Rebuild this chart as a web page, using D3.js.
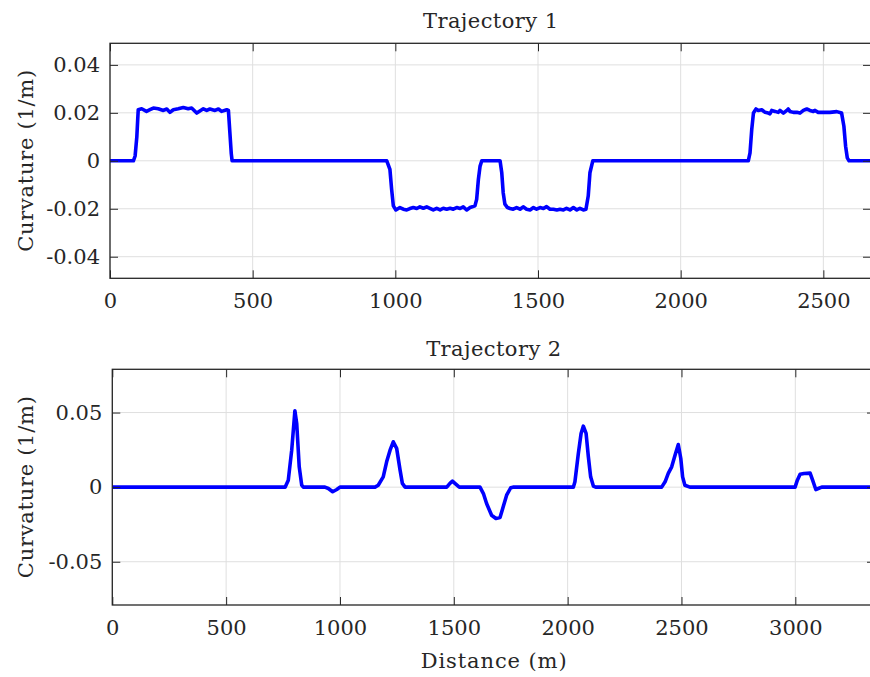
<!DOCTYPE html>
<html>
<head>
<meta charset="utf-8">
<script src="https://cdn.jsdelivr.net/npm/d3@7/dist/d3.min.js"></script>
<style>
    body { margin: 0; background: #fff; }
    #chart-area { width: 870px; height: 677px; }
    text { font-family: "DejaVu Serif", "Liberation Serif", serif; fill: #262626; }
</style>
</head>
<body>
<div id="chart-area"></div>
<script>
/*
*    Curvature along two trajectories
*/

// ---- Trajectory 1 ----
const distance1 = [0, 82, 88, 94, 97, 99, 111, 128, 140, 152, 169, 187, 199, 210, 222, 239, 257, 274, 286, 304,
    315, 327, 339, 350, 368, 380, 391, 409, 415, 420, 425, 428,
    970, 981, 987, 993, 1002, 1016, 1028, 1040, 1051, 1063, 1075, 1086, 1098, 1110, 1121, 1133, 1145, 1157, 1168,
    1180, 1192, 1203, 1215, 1227, 1238, 1250, 1262, 1279, 1285, 1291, 1297, 1303,
    1367, 1373, 1378, 1384, 1393, 1402, 1413, 1425, 1437, 1448, 1460, 1472, 1484, 1495, 1507, 1519, 1530, 1542,
    1554, 1566, 1577, 1589, 1600, 1612, 1624, 1636, 1647, 1659, 1668, 1676, 1682, 1692,
    2237, 2243, 2249, 2255, 2264, 2272, 2284, 2296, 2307, 2313, 2319, 2331, 2342, 2348, 2360, 2372, 2377, 2383,
    2395, 2407, 2418, 2430, 2442, 2453, 2465, 2471, 2482, 2500, 2523, 2547, 2564, 2572, 2578, 2584, 2590, 2667];
const curvature1 = [0, 0, 0.002, 0.010, 0.017, 0.0213, 0.0217, 0.0206, 0.0213, 0.0220, 0.0217, 0.0210, 0.0216, 0.0202,
    0.0213, 0.0217, 0.0222, 0.0217, 0.0220, 0.0199, 0.0208, 0.0217, 0.0210, 0.0216, 0.0210, 0.0216, 0.0206, 0.0213,
    0.0210, 0.012, 0.003, 0,
    0, -0.0036, -0.0119, -0.0188, -0.0205, -0.0195, -0.0202, -0.0205, -0.0199, -0.0195, -0.0199, -0.0192, -0.0198,
    -0.0192, -0.0198, -0.0205, -0.0198, -0.0205, -0.0198, -0.0202, -0.0198, -0.0202, -0.0195, -0.0199, -0.0192,
    -0.0205, -0.0195, -0.0188, -0.0161, -0.0078, -0.0022, 0,
    0, -0.0050, -0.0133, -0.0181, -0.0195, -0.0199, -0.0202, -0.0195, -0.0202, -0.0192, -0.0202, -0.0205, -0.0195,
    -0.0202, -0.0195, -0.0199, -0.0191, -0.0202, -0.0202, -0.0205, -0.0202, -0.0205, -0.0198, -0.0205, -0.0195,
    -0.0205, -0.0198, -0.0205, -0.0202, -0.0147, -0.0050, 0,
    0, 0.0033, 0.0130, 0.0199, 0.0216, 0.0210, 0.0213, 0.0202, 0.0199, 0.0196, 0.0210, 0.0206, 0.0202, 0.0210,
    0.0199, 0.0210, 0.0216, 0.0206, 0.0202, 0.0202, 0.0199, 0.0210, 0.0216, 0.0210, 0.0206, 0.0210, 0.0202, 0.0202,
    0.0202, 0.0205, 0.0199, 0.0144, 0.0061, 0.0012, 0, 0];

// ---- Trajectory 2 ----
const distance2 = [0, 759, 773, 788, 802, 810, 821, 832, 839, 934, 949, 968, 986, 1000,
    1154, 1168, 1190, 1205, 1220, 1234, 1249, 1264, 1274, 1286,
    1469, 1483, 1494, 1505, 1524, 1615, 1630, 1644, 1666, 1685, 1703, 1717, 1732, 1750, 1760,
    2025, 2032, 2047, 2059, 2069, 2081, 2091, 2101, 2113, 2123,
    2413, 2428, 2442, 2457, 2472, 2486, 2497, 2505, 2515, 2537,
    2999, 3009, 3021, 3038, 3065, 3076, 3090, 3101, 3116, 3350];
const curvature2 = [0, 0, 0.0047, 0.0248, 0.0512, 0.0427, 0.0136, 0.0013, 0, 0, -0.0009, -0.0031, -0.0016, 0,
    0, 0.0013, 0.0069, 0.0170, 0.0248, 0.0304, 0.0260, 0.0114, 0.0025, 0,
    0, 0.0025, 0.0040, 0.0025, 0, 0, -0.0043, -0.0110, -0.0188, -0.0210, -0.0204, -0.0132, -0.0054, -0.0004, 0,
    0, 0.0036, 0.0226, 0.0360, 0.0409, 0.0360, 0.0204, 0.0069, 0.0007, 0,
    0, 0.0036, 0.0092, 0.0136, 0.0215, 0.0286, 0.0192, 0.0069, 0.0013, 0,
    0, 0.0047, 0.0087, 0.0092, 0.0094, 0.0047, -0.0016, -0.0009, 0, 0];

// ---- ticks ----
const xTicks1 = [0, 500, 1000, 1500, 2000, 2500];
const yTicks1 = [-0.04, -0.02, 0, 0.02, 0.04];
const yTickLabels1 = ['-0.04', '-0.02', '0', '0.02', '0.04'];
const xTicks2 = [0, 500, 1000, 1500, 2000, 2500, 3000];
const yTicks2 = [-0.05, 0, 0.05];
const yTickLabels2 = ['-0.05', '0', '0.05'];

const titles = ['Trajectory 1', 'Trajectory 2'];
const yLabelText = 'Curvature (1/m)';
const xLabelText = 'Distance (m)';

;(function () {
    'use strict';

    const WIDTH = 870;
    const HEIGHT = 677;
    const TICK = 8;
    const FONT = 21;
    const FAMILY = '"DejaVu Serif", "Liberation Serif", serif';

    const svg = d3.select('#chart-area').append('svg')
        .attr('width', WIDTH)
        .attr('height', HEIGHT);

    const panels = [
        {left: 110, right: 871, top: 43.3, bottom: 278.3, xMax: 2667, yLim: 0.049,
            xs: distance1, ys: curvature1, xTicks: xTicks1, yTicks: yTicks1, yLabels: yTickLabels1,
            title: titles[0], titleY: 28, xLabel: null},
        {left: 112.3, right: 875, top: 369.3, bottom: 605, xMax: 3350, yLim: 0.079,
            xs: distance2, ys: curvature2, xTicks: xTicks2, yTicks: yTicks2, yLabels: yTickLabels2,
            title: titles[1], titleY: 356, xLabel: xLabelText}
    ];

    panels.forEach((p, i) => {
        const x = d3.scaleLinear().domain([0, p.xMax]).range([p.left, p.right]);
        const y = d3.scaleLinear().domain([-p.yLim, p.yLim]).range([p.bottom, p.top]);
        const g = svg.append('g').attr('class', 'panel-' + i);

        svg.append('clipPath').attr('id', 'clip-' + i)
            .append('rect')
            .attr('x', p.left).attr('y', p.top)
            .attr('width', p.right - p.left).attr('height', p.bottom - p.top);

        // grid
        const grid = g.append('g').attr('class', 'grid')
            .attr('stroke', '#dfdfdf').attr('stroke-width', 1);
        grid.selectAll('line.gx').data(p.xTicks).join('line')
            .attr('class', 'gx')
            .attr('x1', d => x(d)).attr('x2', d => x(d))
            .attr('y1', p.top).attr('y2', p.bottom);
        grid.selectAll('line.gy').data(p.yTicks).join('line')
            .attr('class', 'gy')
            .attr('x1', p.left).attr('x2', p.right)
            .attr('y1', d => y(d)).attr('y2', d => y(d));

        // curve
        const pts = p.xs.map((d, k) => [d, p.ys[k]]);
        const line = d3.line().x(d => x(d[0])).y(d => y(d[1]));
        g.append('path')
            .datum(pts)
            .attr('clip-path', `url(#clip-${i})`)
            .attr('fill', 'none')
            .attr('stroke', '#0000ff')
            .attr('stroke-width', 3.6)
            .attr('stroke-linejoin', 'round')
            .attr('stroke-linecap', 'round')
            .attr('d', line);

        // axes (ticks point inward)
        const bottomAxis = g.append('g')
            .attr('transform', `translate(0, ${p.bottom})`)
            .call(d3.axisBottom(x).tickValues(p.xTicks).tickSize(-TICK).tickPadding(15)
                .tickFormat(d3.format('d')));
        const topAxis = g.append('g')
            .attr('transform', `translate(0, ${p.top})`)
            .call(d3.axisTop(x).tickValues(p.xTicks).tickSize(-TICK).tickFormat(''));
        const leftAxis = g.append('g')
            .attr('transform', `translate(${p.left}, 0)`)
            .call(d3.axisLeft(y).tickValues(p.yTicks).tickSize(-TICK).tickPadding(10)
                .tickFormat((d, k) => p.yLabels[k]));
        const rightAxis = g.append('g')
            .attr('transform', `translate(${p.right}, 0)`)
            .call(d3.axisRight(y).tickValues(p.yTicks).tickSize(-TICK).tickFormat(''));

        [bottomAxis, topAxis, leftAxis, rightAxis].forEach(a => {
            a.select('.domain').remove();
            a.selectAll('line').attr('stroke', '#262626').attr('stroke-width', 1);
            a.selectAll('text')
                .attr('font-family', FAMILY)
                .attr('font-size', FONT)
                .attr('fill', '#262626');
        });

        // box
        g.append('rect')
            .attr('x', p.left).attr('y', p.top)
            .attr('width', p.right - p.left).attr('height', p.bottom - p.top)
            .attr('fill', 'none')
            .attr('stroke', '#262626')
            .attr('stroke-width', 1.3);

        // title
        g.append('text')
            .attr('x', (p.left + p.right) / 2)
            .attr('y', p.titleY)
            .attr('text-anchor', 'middle')
            .attr('font-size', FONT)
            .attr('textLength', 135)
            .text(p.title);

        // y label
        g.append('text')
            .attr('transform', `translate(33, ${(p.top + p.bottom) / 2}) rotate(-90)`)
            .attr('text-anchor', 'middle')
            .attr('font-size', FONT)
            .attr('textLength', 182)
            .text(yLabelText);

        if (p.xLabel) {
            g.append('text')
                .attr('x', (p.left + p.right) / 2)
                .attr('y', 668)
                .attr('text-anchor', 'middle')
                .attr('font-size', FONT)
                .attr('textLength', 146)
                .text(p.xLabel);
        }
    });
})();
</script>
</body>
</html>
